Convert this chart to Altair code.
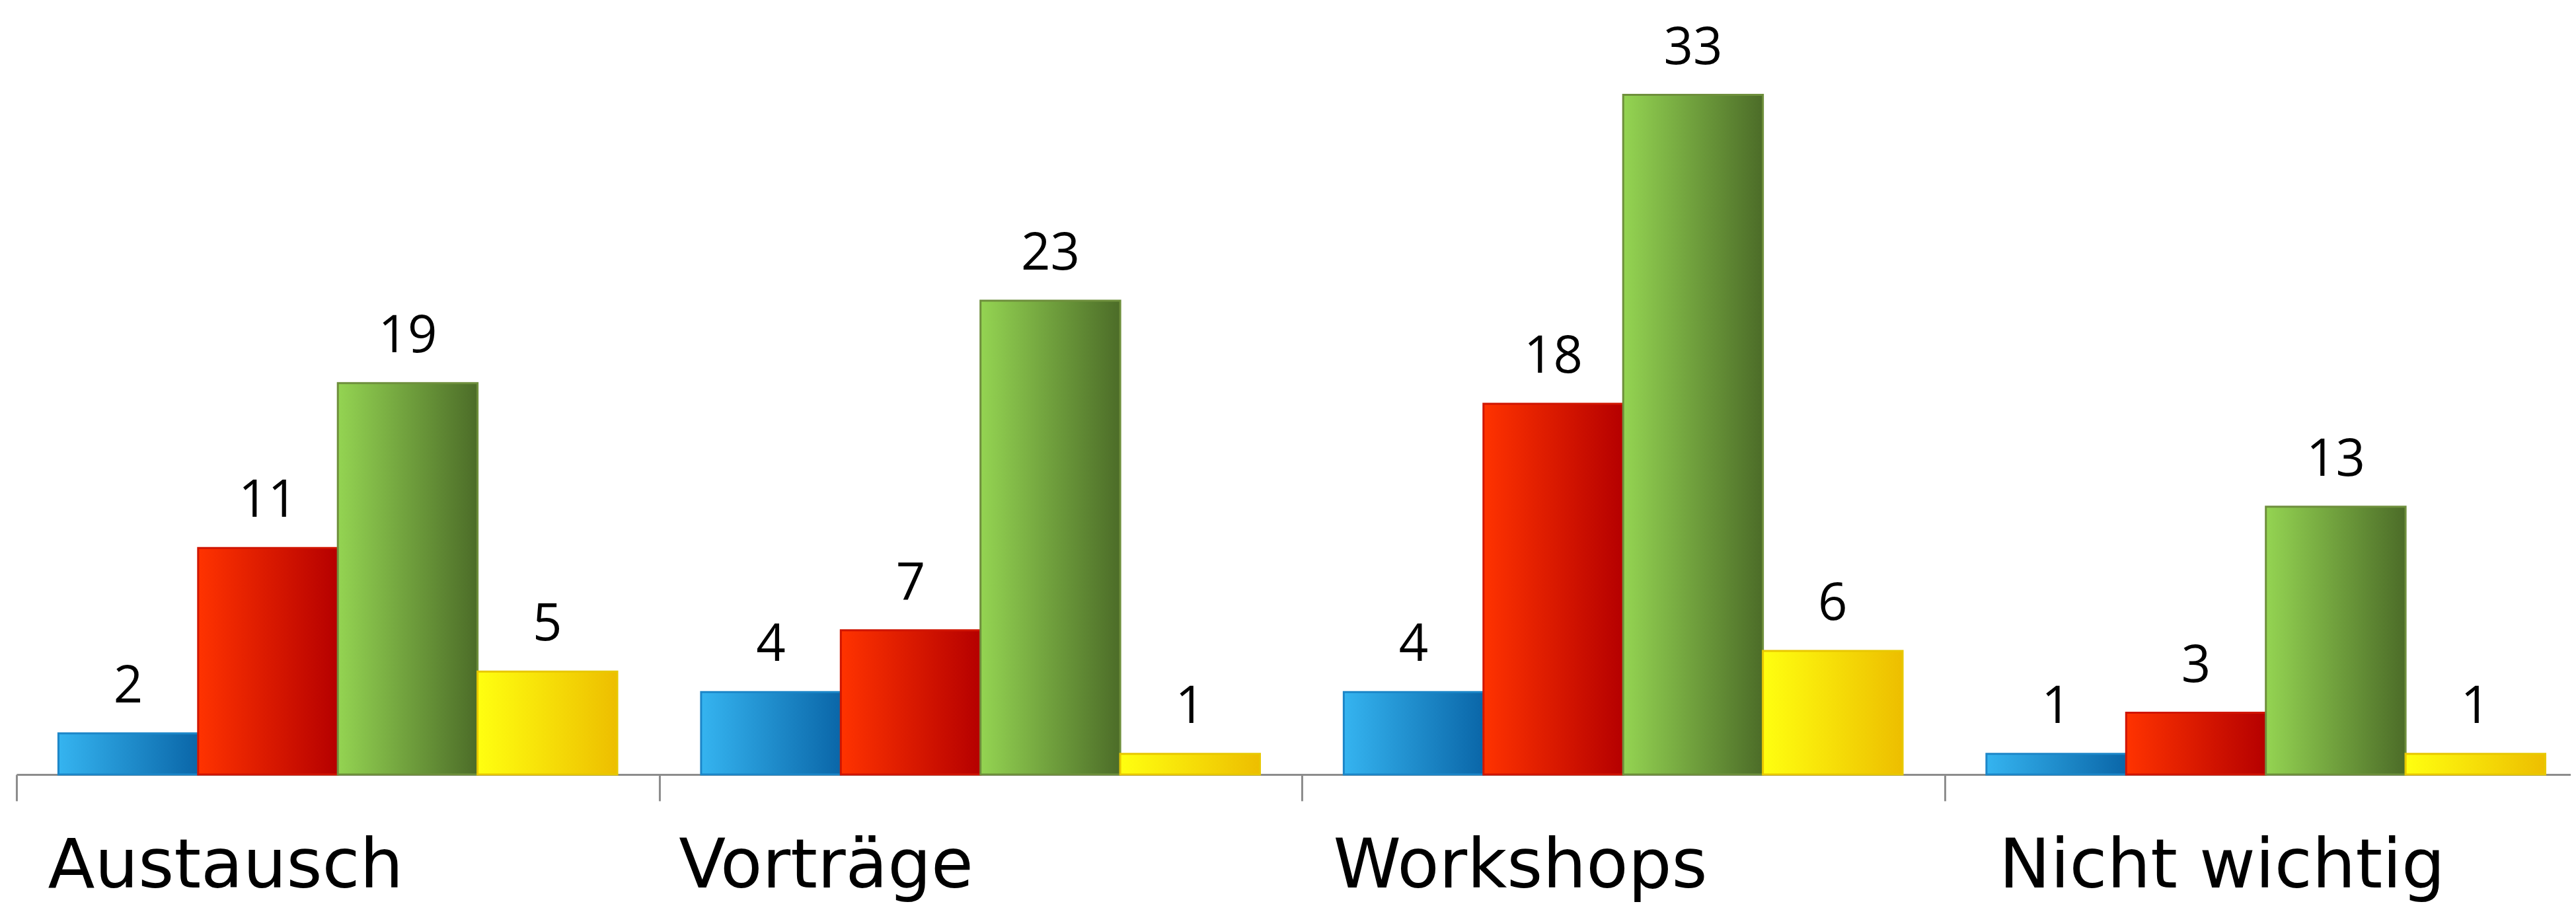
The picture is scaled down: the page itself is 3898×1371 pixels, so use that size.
import altair as alt
import pandas as pd

categories = ["Austausch", "Vorträge", "Workshops", "Nicht wichtig"]
series = ["Serie 1", "Serie 2", "Serie 3", "Serie 4"]
blue_vals = [2, 4, 4, 1]
red_vals = [11, 7, 18, 3]
green_vals = [19, 23, 33, 13]
yellow_vals = [5, 1, 6, 1]

values_by_series = [blue_vals, red_vals, green_vals, yellow_vals]
gradients = [
    ("#35B4F0", "#0A66A8", "#1C86C8"),
    ("#FF3300", "#B50000", "#D01500"),
    ("#94D452", "#4C6C28", "#6E8F3C"),
    ("#FFFF10", "#EDBE00", "#E8C800"),
]

rows = []
for s, vals in zip(series, values_by_series):
    for c, v in zip(categories, vals):
        rows.append({"category": c, "series": s, "value": v})
df = pd.DataFrame(rows)

x_enc = alt.X(
    "category:N",
    sort=categories,
    scale=alt.Scale(domain=categories, paddingInner=0, paddingOuter=0, range=[0, 3898]),
    axis=alt.Axis(
        title=None,
        domainColor="#8c8c8c",
        domainWidth=3,
        tickColor="#8c8c8c",
        tickWidth=3,
        tickSize=40,
        tickBand="extent",
        labelFont="DejaVu Sans",
        labelFontSize=104,
        labelColor="#000000",
        labelAngle=0,
        labelAlign="left",
        labelBaseline="alphabetic",
        labelPadding=131,
        labelOffset={
            "condition": [
                {"test": "datum.value === 'Vorträge'", "value": -458},
                {"test": "datum.value === 'Nicht wichtig'", "value": -405},
            ],
            "value": -440,
        },
        labelOverlap=False,
        labelLimit=0,
    ),
)
y_enc = alt.Y(
    "value:Q",
    scale=alt.Scale(domain=[0, 37.3], nice=False, zero=True),
    axis=None,
)
xo_enc = alt.XOffset("series:N", scale=alt.Scale(domain=series, paddingInner=0, paddingOuter=0.3))

base = alt.Chart(df)
layers = []
for s, (c1, c2, st) in zip(series, gradients):
    grad = alt.Gradient(
        gradient="linear",
        stops=[alt.GradientStop(offset=0, color=c1), alt.GradientStop(offset=1, color=c2)],
        x1=0, x2=1, y1=0, y2=0,
    )
    layers.append(
        base.transform_filter(alt.datum.series == s)
        .mark_bar(color=grad, stroke=st, strokeWidth=3)
        .encode(x=x_enc, y=y_enc, xOffset=xo_enc)
    )

text = base.mark_text(
    font="Open Sans", fontSize=78, color="#000000", baseline="alphabetic", dy=-47
).encode(x=x_enc, y=y_enc, xOffset=xo_enc, text="value:Q")

chart = alt.layer(*layers, text).properties(
    width=3873,
    height=1165,
    autosize=alt.AutoSizeParams(type="none"),
    padding={"left": 17, "top": 0, "right": 0, "bottom": 198},
).configure(background="#ffffff").configure_view(stroke=None)

chart.save("out.html", embed_options={"renderer": "svg", "actions": False})
